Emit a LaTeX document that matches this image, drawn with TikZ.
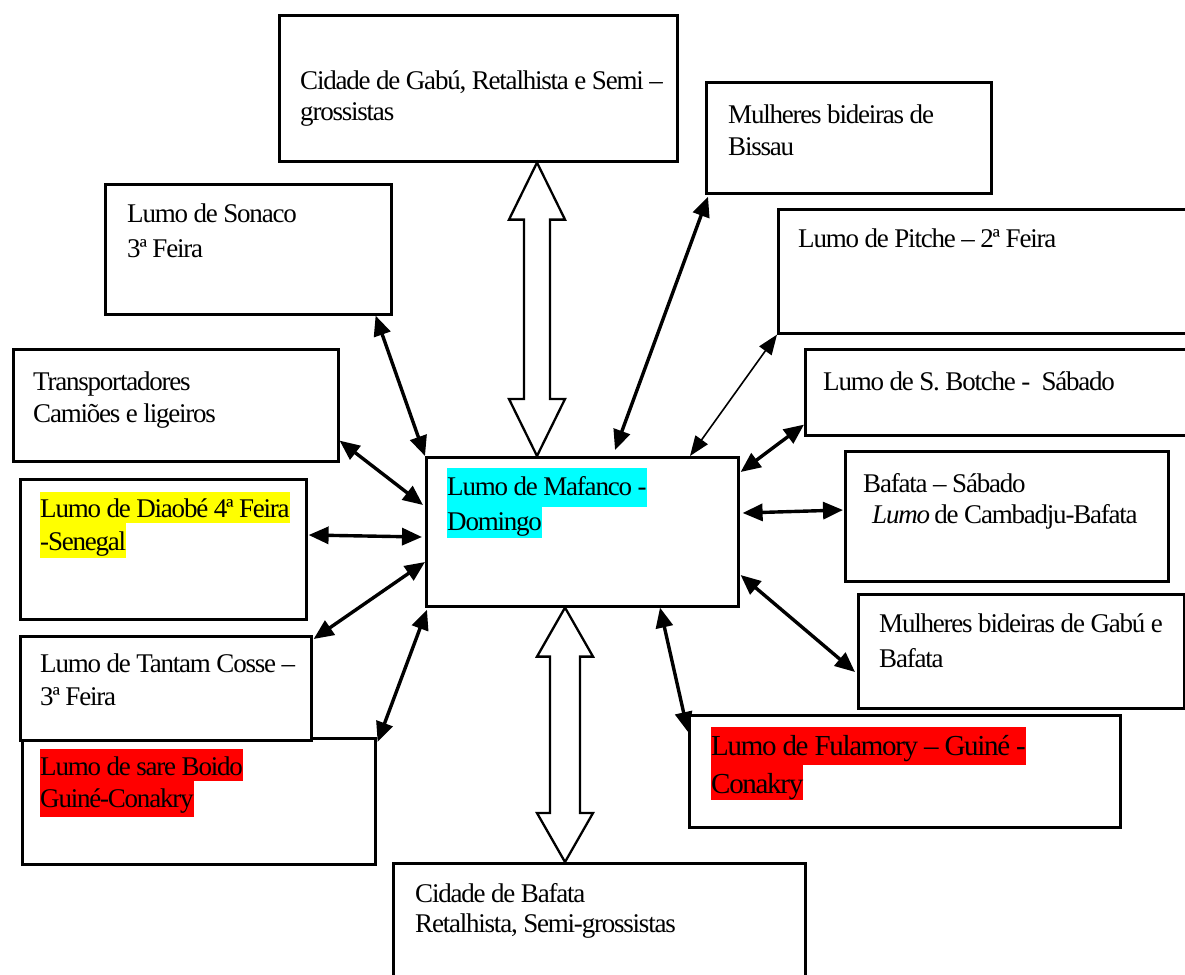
\documentclass[tikz,border=0pt]{standalone}
\usepackage{fontspec}
\setmainfont{Liberation Serif}[LetterSpace=-4.5]
\usetikzlibrary{arrows.meta,calc}
\definecolor{hlcyan}{RGB}{0,255,255}
\definecolor{hlyellow}{RGB}{255,255,0}
\definecolor{hlred}{RGB}{255,0,0}
\begin{document}
\begin{tikzpicture}[x=1pt,y=-1pt,
  box/.style={draw, line width=2.6pt, inner sep=0pt, anchor=north west, fill=white},
  txt/.style={anchor=base west, inner sep=0pt, font=\fontsize{27}{32}\selectfont},
  txtbig/.style={anchor=base west, inner sep=0pt, font=\fontsize{29}{34}\selectfont},
  link/.style={line width=3.4pt, {Triangle[length=20pt,width=17pt]}-{Triangle[length=20pt,width=17pt]}},
  thinlink/.style={line width=1.6pt, {Triangle[length=20pt,width=15pt]}-{Triangle[length=20pt,width=15pt]}},
  bigarrow/.style={draw, line width=2.3pt, fill=white, line join=miter}]
\useasboundingbox (0,0) rectangle (1185,974);

% boxes
\node[box, minimum width=398pt, minimum height=146pt] (gabu) at (278,14) {};
\node[box, minimum width=285pt, minimum height=111pt] (bis) at (705,81) {};
\node[box, minimum width=430pt, minimum height=124pt] (pit) at (777,208) {};
\node[box, minimum width=400pt, minimum height=86pt] (bot) at (804,348) {};
\node[box, minimum width=323pt, minimum height=130pt] (bafs) at (844,450) {};
\node[box, minimum width=326pt, minimum height=114pt] (mulg) at (857,593) {};
\node[box, minimum width=431pt, minimum height=112pt] (ful) at (688,714) {};
\node[box, minimum width=412pt, minimum height=140pt] (bafb) at (392,862) {};
\node[box, minimum width=312pt, minimum height=149pt] (maf) at (425,456) {};
\node[box, minimum width=286pt, minimum height=130pt] (son) at (104,183) {};
\node[box, minimum width=325pt, minimum height=112pt] (tra) at (12,348) {};
\node[box, minimum width=286pt, minimum height=140pt] (dia) at (19,478) {};
\node[box, minimum width=353pt, minimum height=126pt] (sar) at (21,737) {};
\node[box, minimum width=291pt, minimum height=104pt] (tan) at (19,635) {};

% texts
\node[txt] (gabuT1) at (300,89) {Cidade de Gabú, Retalhista e Semi –};
\node[txt] (gabuT2) at (300,120) {grossistas};
\node[txt] (bisT1) at (728,123) {Mulheres bideiras de};
\node[txt] (bisT2) at (728,155) {Bissau};
\node[txt] (pitT1) at (798,247) {Lumo de Pitche – 2ª Feira};
\node[txt] (botT1) at (823,390) {Lumo de S. Botche -\ \ Sábado};
\node[txt] (bafsT1) at (863,492) {Bafata – Sábado};
\node[txt] (bafsT2) at (872,523) {\textit{Lumo} de Cambadju-Bafata};
\node[txt] (mulgT1) at (879,632) {Mulheres bideiras de Gabú e};
\node[txt] (mulgT2) at (879,667) {Bafata};
\node[txtbig, fill=hlred, text height=28pt, text depth=10pt] (fulT1) at (711,755) {Lumo de Fulamory – Guiné -};
\node[txtbig, fill=hlred, text height=28pt, text depth=7pt] (fulT2) at (711,793) {Conakry};
\node[txt] (bafbT1) at (415,902) {Cidade de Bafata};
\node[txt] (bafbT2) at (415,932) {Retalhista, Semi-grossistas};
\node[txt, fill=hlcyan, text height=27pt, text depth=12pt] (mafT1) at (447,495) {Lumo de Mafanco -};
\node[txt, fill=hlcyan, text height=23pt, text depth=8pt] (mafT2) at (447,530) {Domingo};
\node[txt] (sonT1) at (127,222) {Lumo de Sonaco};
\node[txt] (sonT2) at (127,257) {3ª Feira};
\node[txt] (traT1) at (33,390) {Transportadores};
\node[txt] (traT2) at (33,422) {Camiões e ligeiros};
\node[txt, fill=hlyellow, text height=25pt, text depth=6pt] (diaT1) at (40,517) {Lumo de Diaobé 4ª Feira};
\node[txt, fill=hlyellow, text height=27pt, text depth=8pt] (diaT2) at (40,550) {-Senegal};
\node[txt] (tanT1) at (40,672) {Lumo de Tantam Cosse –};
\node[txt] (tanT2) at (40,705) {3ª Feira};
\node[txt, fill=hlred, text height=26pt, text depth=6pt] (sarT1) at (40,775) {Lumo de sare Boido};
\node[txt, fill=hlred, text height=26pt, text depth=10pt] (sarT2) at (40,807) {Guiné-Conakry};

% big double arrows
\coordinate (A1) at ($(gabu.south west)+(259,0)$);
\coordinate (A2) at (A1 |- maf.north);
\draw[bigarrow] (A1) -- ($(A1)+(28,57)$) -- ($(A1)+(13,57)$) -- ($(A2)+(13,-57)$) -- ($(A2)+(28,-57)$) -- (A2)
  -- ($(A2)+(-28,-57)$) -- ($(A2)+(-13,-57)$) -- ($(A1)+(-13,57)$) -- ($(A1)+(-28,57)$) -- cycle;
\coordinate (B1) at ($(maf.south west)+(140,0)$);
\coordinate (B2) at (B1 |- bafb.north);
\draw[bigarrow] (B1) -- ($(B1)+(28,49)$) -- ($(B1)+(15,49)$) -- ($(B2)+(15,-49)$) -- ($(B2)+(28,-49)$) -- (B2)
  -- ($(B2)+(-28,-49)$) -- ($(B2)+(-15,-49)$) -- ($(B1)+(-15,49)$) -- ($(B1)+(-28,49)$) -- cycle;

% connectors
\draw[link] ($(maf.north west)+(190,-6)$) -- ($(bis.south west)+(3,2)$);
\draw[thinlink] ($(maf.north west)+(265,0)$) -- (pit.south west);
\draw[link] ($(maf.north east)+(1,16)$) -- ($(bot.south west)+(0,-12)$);
\draw[link] ($(maf.north east)+(3,57)$) -- ($(bafs.north west)+(-1,60)$);
\draw[link] ($(maf.north east)+(1,119)$) -- ($(mulg.north west)+(-2,79)$);
\draw[link] ($(maf.south west)+(235,0)$) -- ($(ful.north west)+(0,18)$);
\draw[link] ($(maf.south west)+(2,2)$) -- ($(sar.north east)+(1,5)$);
\draw[link] ($(maf.north west)+(0,106)$) -- ($(tan.north east)+(1,4)$);
\draw[link] ($(maf.north west)+(-3,81)$) -- ($(dia.north east)+(1,57)$);
\draw[link] ($(maf.north west)+(-2,49)$) -- ($(tra.south east)+(0,-22)$);
\draw[link] (maf.north west) -- ($(son.south east)+(-17,0)$);
\end{tikzpicture}
\end{document}
